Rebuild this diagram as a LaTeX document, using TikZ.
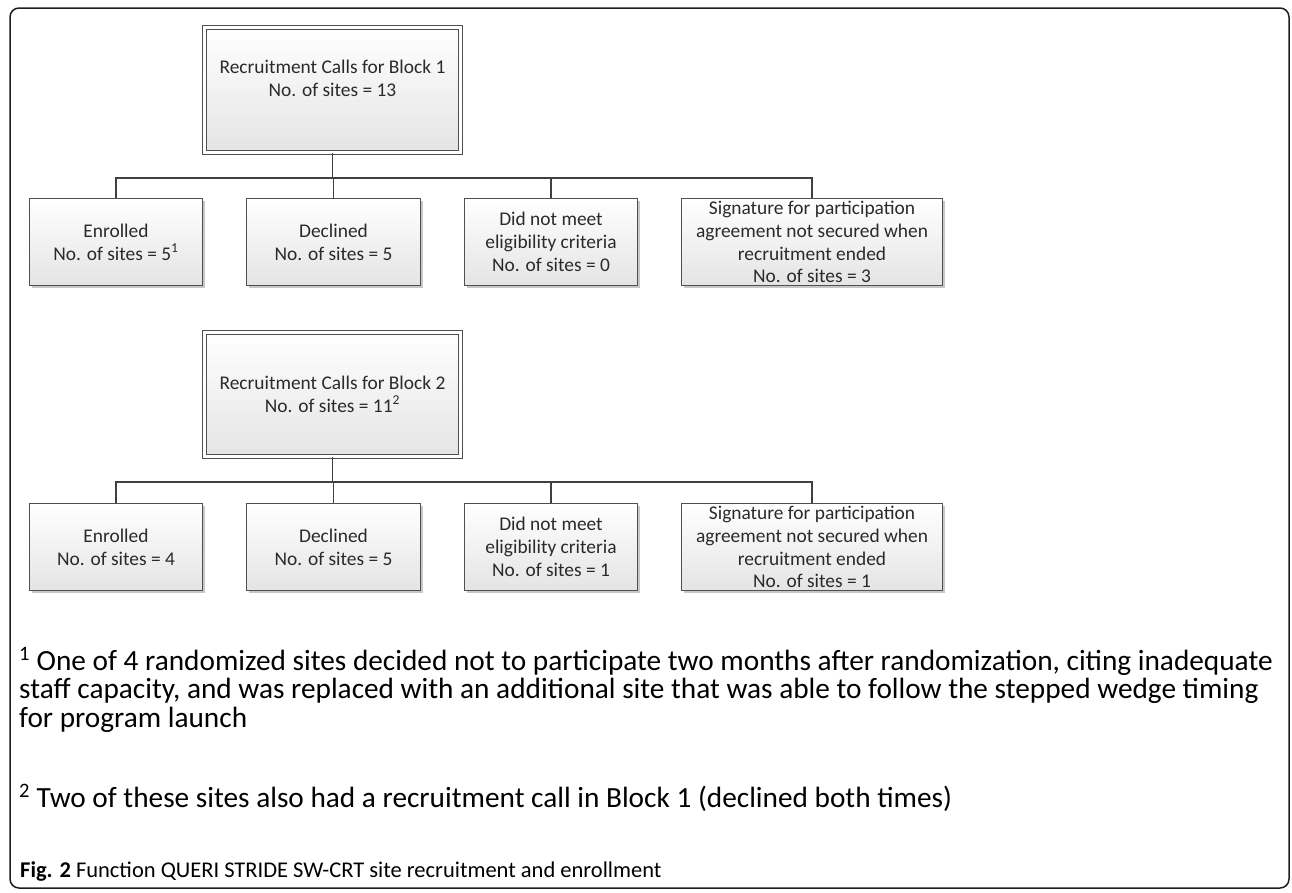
\documentclass[tikz,border=0pt]{standalone}
\usepackage{fontspec}
\setmainfont{Carlito}
\usetikzlibrary{shadows}
\definecolor{boxline}{HTML}{505050}
\definecolor{boxbot}{HTML}{E4E4E4}
\definecolor{conncol}{HTML}{404040}
\definecolor{txt}{HTML}{2A2A2A}
\definecolor{frame}{HTML}{1E1E1E}
\newcommand\boxfont{\fontsize{19.4}{22.8}\selectfont}
\newcommand\fnfont{\fontsize{29.3}{28.5}\selectfont}
\newcommand\capfont{\fontsize{22.5}{24}\selectfont}
\begin{document}
\begin{tikzpicture}[x=1pt,y=-1pt,
  childbox/.style={draw=boxline, line width=1.3pt, top color=white, bottom color=boxbot,
    minimum width=#1, minimum height=87pt, inner sep=0pt, align=center, font=\boxfont, text=txt,
    drop shadow={shadow xshift=2pt, shadow yshift=-2.5pt, opacity=0.22, fill=black}},
  topbox/.style={draw=boxline, line width=1.2pt, double=white, double distance=2.4pt,
    top color=white, bottom color=boxbot, minimum width=256pt, minimum height=#1, inner sep=0pt,
    drop shadow={shadow xshift=2pt, shadow yshift=-2.5pt, opacity=0.22, fill=black}},
  boxtext/.style={align=center, font=\boxfont, text=txt, inner sep=0pt},
  conn/.style={draw=conncol, line width=1.9pt},
  fn/.style={font=\fnfont, text=black, inner sep=0pt, anchor=base west},
  captext/.style={font=\capfont, text=black, inner sep=0pt, anchor=base west}]
\useasboundingbox (0,0) rectangle (1292,892);
\draw[frame, line width=1.5pt, rounded corners=9pt] (10,8) rectangle (1289,888);

% Block 1
\node[topbox=125pt] (top1) at (332.5,90) {};
\node[boxtext] (top1t) at (332.5,78.5) {Recruitment Calls for Block 1\\No. of sites = 13};
\node[childbox=173pt] (e1) at (116,242) {Enrolled\\No. of sites = 5\textsuperscript{1}};
\node[childbox=174pt] (d1) at (333.5,242) {Declined\\No. of sites = 5};
\node[childbox=173pt] (n1) at (551,242) {Did not meet\\eligibility criteria\\No. of sites = 0};
\node[childbox=261pt] (s1) at (812,242) {Signature for participation\\agreement not secured when\\recruitment ended\\No. of sites = 3};
\coordinate (bar1) at (333,178);
\draw[conn] (top1.south) -- (top1.south |- bar1);
\draw[conn] (e1.north) -- (e1.north |- bar1) -- (s1.north |- bar1) -- (s1.north);
\draw[conn] (d1.north) -- (d1.north |- bar1);
\draw[conn] (n1.north) -- (n1.north |- bar1);

% Block 2
\node[topbox=124pt] (top2) at (332.5,394.5) {};
\node[boxtext] (top2t) at (332.5,394) {Recruitment Calls for Block 2\\No. of sites = 11\textsuperscript{2}};
\node[childbox=173pt] (e2) at (116,547) {Enrolled\\No. of sites = 4};
\node[childbox=174pt] (d2) at (333.5,547) {Declined\\No. of sites = 5};
\node[childbox=173pt] (n2) at (551,547) {Did not meet\\eligibility criteria\\No. of sites = 1};
\node[childbox=261pt] (s2) at (812,547) {Signature for participation\\agreement not secured when\\recruitment ended\\No. of sites = 1};
\coordinate (bar2) at (333,482);
\draw[conn] (top2.south) -- (top2.south |- bar2);
\draw[conn] (e2.north) -- (e2.north |- bar2) -- (s2.north |- bar2) -- (s2.north);
\draw[conn] (d2.north) -- (d2.north |- bar2);
\draw[conn] (n2.north) -- (n2.north |- bar2);

% Footnotes
\node[fn] (fn1a) at (19,670) {\textsuperscript{1} One of 4 randomized sites decided not to participate two months after randomization, citing inadequate};
\node[fn] (fn1b) at (19,698.5) {staff capacity, and was replaced with an additional site that was able to follow the stepped wedge timing};
\node[fn] (fn1c) at (19,727) {for program launch};
\node[fn] (fn2) at (19,807) {\textsuperscript{2} Two of these sites also had a recruitment call in Block 1 (declined both times)};
\node[captext] (cap) at (20,877) {\textbf{Fig. 2} Function QUERI STRIDE SW-CRT site recruitment and enrollment};
\end{tikzpicture}
\end{document}
